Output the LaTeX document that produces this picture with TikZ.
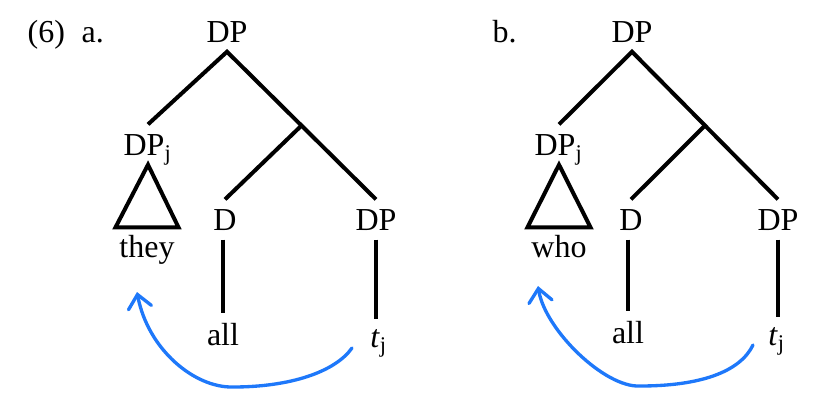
\documentclass[tikz,border=0pt]{standalone}
\usepackage{fontspec}
\setmainfont{Liberation Serif}
\usepackage{xcolor}
\usepackage{tikz}
\usetikzlibrary{arrows.meta,calc}
\definecolor{pen}{RGB}{30,120,250}

\begin{document}
\begin{tikzpicture}[x=0.3pt,y=-0.3pt,font=\fontsize{9.6}{11.5}\selectfont,
  cat/.style={inner sep=2.7pt,anchor=base},
  roof/.style={inner xsep=1pt,inner ysep=2pt,anchor=base},
  edge/.style={line width=1.2pt},
  move/.style={draw=pen,line width=1pt,line cap=round,
    -{Straight Barb[length=4pt,width=7pt,line cap=round]}}]
\useasboundingbox (0,0) rectangle (833,413);
% (6a)
\node[inner sep=0pt,anchor=base west] (exA) at (27,42) {(6)\hspace{5pt}a.};
\node[cat] (rootA) at (227,42) {DP};
\node[cat] (specA) at (148,155) {DP\smash{\textsubscript{j}}};
\node[roof] (theyA) at (147,257) {they};
\node[cat] (detA) at (225,230) {D};
\node[cat] (dpA) at (376,230) {DP};
\node[cat] (allA) at (223,345) {all};
\node[cat] (trA) at (379,347) {\textit{t}\textsubscript{j}};
\coordinate (barA) at ($(rootA.south)!0.5!(dpA.north)$);
\draw[edge] (specA.north) -- (rootA.south) -- (dpA.north);
\draw[edge] (barA) -- (detA.north);
\draw[edge,line join=miter] (specA.south) -- (theyA.north east) -- (theyA.north west) -- cycle;
\draw[edge] (allA.north |- detA.south) -- (allA.north);
\draw[edge] (dpA.south) -- (dpA.south |- trA.north);
\coordinate (tailA) at (352,348);
\coordinate (headA) at (137,292);
\draw[move] (tailA) .. controls (335,372) and (290,387) .. (233,387)
  .. controls (195,388) and (148,350) .. (headA);
% (6b)
\node[inner sep=0pt,anchor=base west] (exB) at (492,42) {b.};
\node[cat] (rootB) at (632,42) {DP};
\node[cat] (specB) at (559,155) {DP\smash{\textsubscript{j}}};
\node[roof] (whoB) at (559,257) {who};
\node[cat] (detB) at (631,230) {D};
\node[cat] (dpB) at (778,230) {DP};
\node[cat] (allB) at (628,343) {all};
\node[cat] (trB) at (777,345) {\textit{t}\textsubscript{j}};
\coordinate (barB) at ($(rootB.south)!0.5!(dpB.north)$);
\draw[edge] (specB.north) -- (rootB.south) -- (dpB.north);
\draw[edge] (barB) -- (detB.north);
\draw[edge,line join=miter] (specB.south) -- (whoB.north east) -- (whoB.north west) -- cycle;
\draw[edge] (allB.north |- detB.south) -- (allB.north);
\draw[edge] (dpB.south) -- (dpB.south |- trB.north);
\coordinate (tailB) at (753,345);
\coordinate (headB) at (538,286);
\draw[move] (tailB) .. controls (740,372) and (700,386) .. (640,386)
  .. controls (605,388) and (545,330) .. (headB);
\end{tikzpicture}
\end{document}
